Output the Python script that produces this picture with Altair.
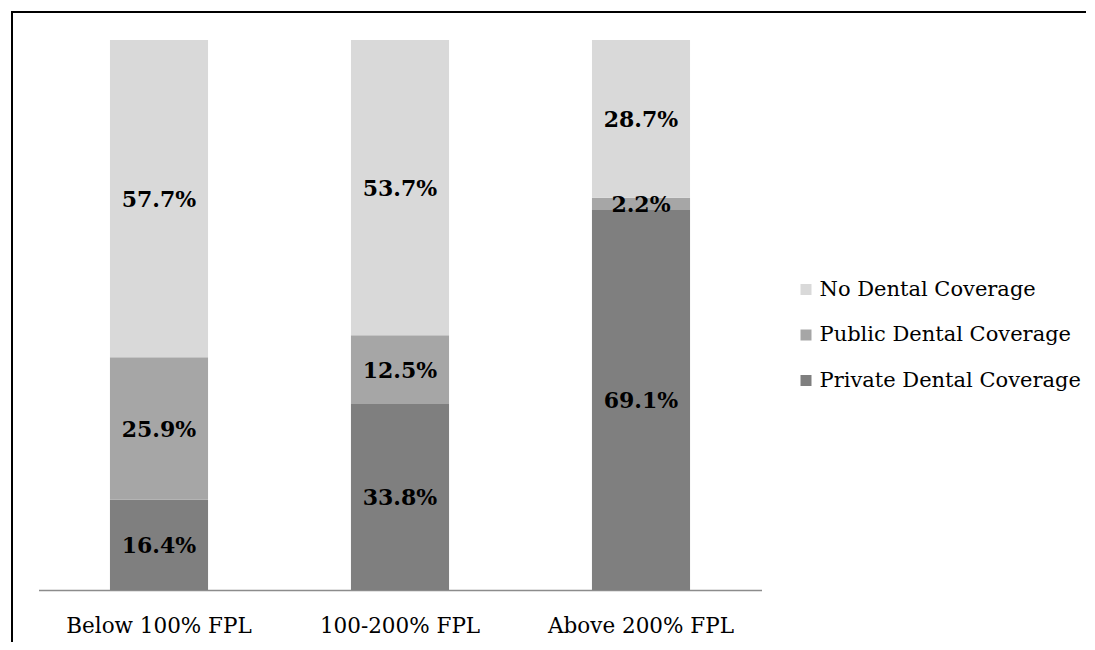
import altair as alt
import pandas as pd

categories = ["Below 100% FPL", "100-200% FPL", "Above 200% FPL"]
series = ["No Dental Coverage", "Public Dental Coverage", "Private Dental Coverage"]
private_vals = [16.4, 33.8, 69.1]
public_vals = [25.9, 12.5, 2.2]
none_vals = [57.7, 53.7, 28.7]
colors = ["#d9d9d9", "#a6a6a6", "#7f7f7f"]

rows = []
for i, c in enumerate(categories):
    for s, vals, order in [
        ("Private Dental Coverage", private_vals, 0),
        ("Public Dental Coverage", public_vals, 1),
        ("No Dental Coverage", none_vals, 2),
    ]:
        rows.append({"cat": c, "series": s, "value": vals[i], "order": order})
df = pd.DataFrame(rows)

FONT = "DejaVu Serif"

base = alt.Chart(df).transform_stack(
    stack="value", groupby=["cat"], as_=["v0", "v1"], sort=[{"field": "order", "order": "ascending"}]
).transform_calculate(mid="(datum.v0 + datum.v1) / 2", label="format(datum.value, '.1f') + '%'")

x = alt.X(
    "cat:N",
    sort=categories,
    title=None,
    scale=alt.Scale(paddingInner=0.593, paddingOuter=0.2965),
    axis=alt.Axis(
        labelAngle=0, labelFont=FONT, labelFontSize=21.5, labelColor="#000000", labelLimit=400,
        ticks=False, domainColor="#8c8c8c", domainWidth=1.5, labelPadding=25,
    ),
)
yscale = alt.Scale(domain=[0, 100], nice=False)

bars = base.mark_bar().encode(
    x=x,
    y=alt.Y("v0:Q", scale=yscale, axis=None),
    y2="v1:Q",
    color=alt.Color(
        "series:N",
        scale=alt.Scale(domain=series, range=colors),
        legend=alt.Legend(
            title=None, orient="none", legendX=757, legendY=239,
            symbolType="square", symbolSize=121, symbolStrokeWidth=0,
            labelFont=FONT, labelFontSize=21, labelColor="#000000", labelLimit=400,
            rowPadding=23.5, labelOffset=3,
        ),
    ),
)

labels = base.mark_text(font=FONT, fontSize=22, fontWeight="bold", color="#000000", dy=1).encode(
    x=alt.X("cat:N", sort=categories),
    y=alt.Y("mid:Q", scale=yscale),
    text="label:N",
)

frame_top = alt.Chart(df).mark_rule(stroke="#000000", strokeWidth=2).encode(
    x=alt.value(-27.5), x2=alt.value(1300), y=alt.value(-28)
)
frame_left = alt.Chart(df).mark_rule(stroke="#000000", strokeWidth=2).encode(
    x=alt.value(-26.5), y=alt.value(-29), y2=alt.value(900)
)

chart = alt.layer(frame_top, frame_left, bars, labels).properties(
    width=723, height=550,
    autosize=alt.AutoSizeParams(type="none"),
    padding={"left": 30.5, "top": 32, "right": 324, "bottom": 52},
).configure_view(stroke=None)

chart.save("out.html", embed_options={"renderer": "svg", "actions": False})
